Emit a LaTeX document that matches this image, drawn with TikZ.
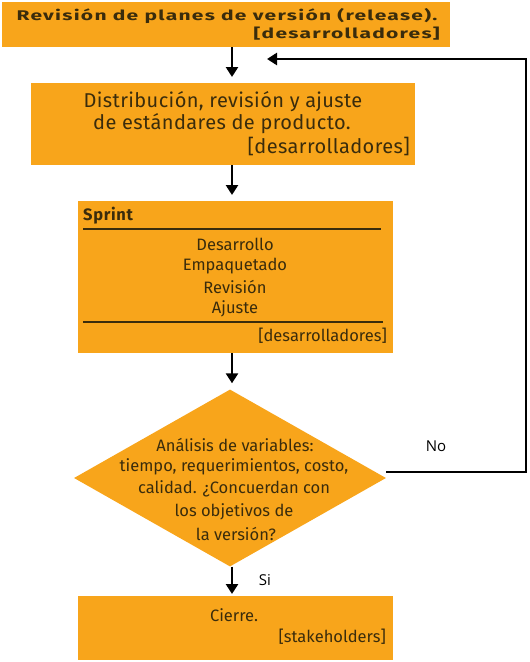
\documentclass[tikz,border=0pt]{standalone}
\usepackage{fontspec}
\setmainfont{Fira Sans}
\newfontfamily\labfont{Open Sans}
\newfontfamily\ttlfont[FakeStretch=1.5,LetterSpace=9]{Fira Sans Bold}
\usetikzlibrary{arrows.meta,shapes.geometric,calc}
\definecolor{boxorange}{HTML}{F8A51B}
\definecolor{boxtext}{HTML}{3A2C0C}
\tikzset{
  box/.style={fill=boxorange,draw=none,inner sep=0pt,anchor=north west},
  txt/.style={text=boxtext,inner sep=0pt,font=\fontsize{16.5}{18}\selectfont},
  bigtxt/.style={text=boxtext,inner sep=0pt,font=\fontsize{20}{22}\selectfont\addfontfeature{LetterSpace=2}},
  ttl/.style={text=boxtext,inner sep=0pt,font=\ttlfont\fontsize{14}{16}\selectfont},
  lab/.style={text=black,inner sep=0pt,font=\labfont\fontsize{15}{17}\selectfont},
  flow/.style={line width=2.8pt,-{Triangle[width=12pt,length=10pt]}},
  rulebar/.style={line width=1.8pt,draw=boxtext}
}
\begin{document}
\begin{tikzpicture}[x=1pt,y=-1pt]
\useasboundingbox (0,0) rectangle (530,662);
% boxes
\node[box,minimum width=448pt,minimum height=45pt] (b1) at (2,2) {};
\node[box,minimum width=384pt,minimum height=82pt] (b2) at (31,83) {};
\node[box,minimum width=315pt,minimum height=152pt] (b3) at (78,201) {};
\node[shape=diamond,fill=boxorange,draw=none,inner sep=0pt,minimum width=312pt,minimum height=177pt] (dia) at (230,478) {};
\node[box,minimum width=315pt,minimum height=64pt] (b4) at (78,596) {};
% texts box1
\node[ttl] (t1a) at (227,16) {Revisión de planes de versión (release).};
\node[ttl,anchor=east] (t1b) at (440,34) {[desarrolladores]};
% box2
\node[bigtxt] (t2a) at (223,102) {Distribución, revisión y ajuste};
\node[bigtxt] (t2b) at (222,124) {de estándares de producto.};
\node[bigtxt,anchor=east] (t2c) at (410,146) {[desarrolladores]};
% box3
\node[txt,anchor=west,font=\fontsize{16.5}{18}\selectfont\bfseries\addfontfeature{LetterSpace=4}] (t3s) at (83,216) {Sprint};
\coordinate (r1a) at (83,229); \coordinate (r1b) at (381,229);
\draw[rulebar] (r1a) -- (r1b);
\node[txt] (t3a) at (235,244) {Desarrollo};
\node[txt] (t3b) at (235,266) {Empaquetado};
\node[txt] (t3c) at (235,287) {Revisión};
\node[txt] (t3d) at (235,309) {Ajuste};
\coordinate (r2a) at (83,322); \coordinate (r2b) at (383,322);
\draw[rulebar] (r2a) -- (r2b);
\node[txt,anchor=east] (t3e) at (387,336) {[desarrolladores]};
% diamond text
\node[txt] (d1) at (235,445) {Análisis de variables:};
\node[txt] (d2) at (234,467) {tiempo, requerimientos, costo,};
\node[txt] (d3) at (234,489) {calidad. ¿Concuerdan con};
\node[txt] (d4) at (234,512) {los objetivos de};
\node[txt] (d5) at (236,534) {la versión?};
% box4
\node[txt] (t4a) at (234,615) {Cierre.};
\node[txt,anchor=east] (t4b) at (386,637) {[stakeholders]};
% labels
\node[lab] (no) at (436,446) {No};
\node[lab] (si) at (265,580) {Si};
% connectors
\coordinate (ax) at (232,0);
\draw[flow,shorten >=6pt] (b1.south -| ax) -- (b2.north -| ax);
\draw[flow,shorten >=6pt] (b2.south -| ax) -- (b3.north -| ax);
\draw[flow,shorten >=6pt] (b3.south -| ax) -- (dia.north -| ax);
\draw[flow,shorten >=2pt] (dia.south -| ax) -- (b4.north -| ax);
\coordinate (lp1) at (386,472);
\coordinate (lp2) at (526,472);
\coordinate (lp3) at (526,59);
\coordinate (lp4) at (267,59);
\draw[flow] (lp1) -- (lp2) -- (lp3) -- (lp4);
\end{tikzpicture}
\end{document}
